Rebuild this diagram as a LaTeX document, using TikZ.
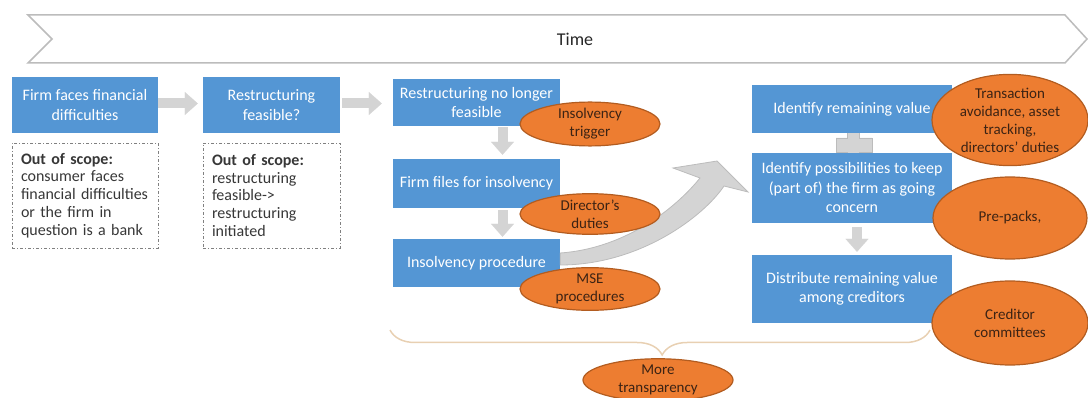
\documentclass[tikz,border=0pt]{standalone}
\usepackage{fontspec}
\setmainfont{Carlito}
\usetikzlibrary{shapes.geometric,arrows.meta,decorations.pathreplacing,positioning}
\definecolor{stepblue}{RGB}{84,150,212}
\definecolor{arrowgray}{RGB}{212,212,212}
\definecolor{linegray}{RGB}{188,188,188}
\definecolor{topicorange}{RGB}{237,125,49}
\definecolor{topicedge}{RGB}{178,92,32}
\definecolor{topictext}{RGB}{60,35,20}
\definecolor{bracetan}{RGB}{232,208,178}
\definecolor{scopetext}{RGB}{55,55,55}
\tikzset{
    stepbox/.style={fill=stepblue, text=white, align=center, inner sep=0pt,
        font=\fontsize{16}{19.5}\selectfont},
    scopebox/.style={draw=gray, dash pattern=on 3pt off 2pt on 1pt off 2pt, line width=0.9pt,
        text=scopetext, align=left, inner xsep=9pt, inner ysep=0pt, minimum height=105pt,
        font=\fontsize{16}{17.8}\selectfont},
    topic/.style={ellipse, fill=topicorange, draw=topicedge, line width=1.2pt, inner sep=0pt,
        text=topictext, align=center, font=\fontsize{15}{18}\selectfont},
    flow/.style={line width=10pt, draw=arrowgray,
        -{Triangle[length=13pt,width=23pt,line width=0.1pt]}},
}

\begin{document}
\begin{tikzpicture}[x=1pt,y=-1pt]
    \useasboundingbox (0,0) rectangle (1088,398);
    % time line
    \draw[linegray, line width=1.5pt, fill=white] (28,15) -- (1065,15) -- (1087,39) -- (1065,63) -- (28,63) -- (52,39) -- cycle;
    \node[font=\fontsize{18}{20}\selectfont, text=black!85] (time) at (575,39) {Time};
    % plus sign between the first two steps on the right
    \draw[fill=arrowgray, draw=linegray, line width=0.8pt] (847,127) -- (859,127) -- (859,138) -- (872,138) -- (872,152) -- (859,152) -- (859,163) -- (847,163) -- (847,152) -- (836,152) -- (836,138) -- (847,138) -- cycle;

    \node[stepbox, minimum width=146pt, minimum height=56pt] (b1) at (85,105) {Firm faces financial\\difficulties};
    \node[stepbox, minimum width=137pt, minimum height=56pt] (b2) at (271.5,105) {Restructuring\\feasible?};
    \node[stepbox, minimum width=167pt, minimum height=47pt] (b3) at (476.5,102.5) {Restructuring no longer\\feasible};
    \node[stepbox, minimum width=167pt, minimum height=49pt] (b4) at (476.5,183.5) {Firm files for insolvency};
    \node[stepbox, minimum width=167pt, minimum height=48pt] (b5) at (476.5,263) {Insolvency procedure};
    \node[stepbox, minimum width=200pt, minimum height=48pt] (b6) at (852,109) {Identify remaining value};
    \node[stepbox, minimum width=200pt, minimum height=70pt] (b7) at (852,188) {Identify possibilities to keep\\(part of) the firm as going\\concern};
    \node[stepbox, minimum width=200pt, minimum height=68pt] (b8) at (852,289) {Distribute remaining value\\among creditors};

    \node[scopebox, text width=128pt] (s1) at (85,195.5) {\textbf{Out of scope:}\\consumer faces\\financial difficulties\\or the firm in\\question is a bank};
    \node[scopebox, text width=119pt] (s2) at (271.5,195.5) {\textbf{Out of scope:}\\restructuring\\feasible->\\restructuring\\initiated};

    % arrows between the steps
    \draw[flow, shorten >=5pt] ([yshift=1.5pt]b1.east) -- ([yshift=1.5pt]b1.east -| b2.west);
    \draw[flow, shorten <=2pt, shorten >=11pt] ([yshift=1.5pt]b2.east) -- ([yshift=1.5pt]b2.east -| b3.west);
    \draw[flow, shorten <=1pt, shorten >=4pt] ([xshift=26pt]b3.south) -- ([xshift=26pt]b4.north);
    \draw[flow, shorten <=2pt, shorten >=2pt] ([xshift=26pt]b4.south) -- ([xshift=26pt]b5.north);
    \draw[flow, shorten <=4pt, shorten >=3pt] ([xshift=5pt]b7.south) -- ([xshift=5pt]b8.north);
    \filldraw[fill=arrowgray, draw=linegray, line width=0.8pt] ([yshift=10pt]b5.east) .. controls +(70,-5) and +(-20,25) .. (700,178) -- (673,168) -- (717,161) -- (748,192) -- (724,186) .. controls +(-20,30) and +(80,0) .. ([yshift=-2pt]b5.east) -- cycle;

    \node[topic, minimum width=140pt, minimum height=42pt] (t1) at (590,124) {Insolvency\\trigger};
    \node[topic, minimum width=140pt, minimum height=38pt] (t2) at (590,214) {Director’s\\duties};
    \node[topic, minimum width=140pt, minimum height=38pt] (t3) at (590,289) {MSE\\procedures};
    \node[topic, minimum width=156pt, minimum height=82pt] (t4) at (1010,120) {Transaction\\avoidance, asset\\tracking,\\directors’ duties};
    \node[topic, minimum width=154pt, minimum height=82pt] (t5) at (1010,218) {Pre-packs,};
    \node[topic, minimum width=156pt, minimum height=84pt] (t6) at (1010,323) {Creditor\\committees};

    % brace over the insolvency part
    \coordinate (bracel) at (390,330);
    \coordinate (bracer) at (930,330);
    \draw[bracetan, line width=1.5pt, decorate, decoration={brace, amplitude=25pt, mirror, aspect=0.504}] (bracel) -- (bracer);
    \node[topic, minimum width=150pt, minimum height=36pt] (t7) at (658,380) {More\\transparency};
\end{tikzpicture}
\end{document}
